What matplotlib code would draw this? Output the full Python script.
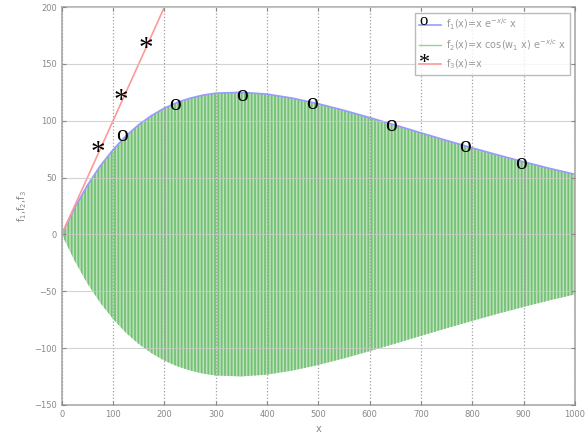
import numpy as np
import matplotlib
matplotlib.use('Agg')
import matplotlib.pyplot as plt

plt.rcParams['font.family'] = 'DejaVu Sans'
plt.rcParams['hatch.linewidth'] = 1.3

# envelope f1
x_vals = [0, 25, 50, 75, 100, 125, 150, 175, 200, 225, 250, 275, 300, 350, 400,
          450, 500, 550, 600, 650, 700, 750, 800, 850, 900, 950, 1000]
f1_vals = [0, 23.2, 43.2, 60.2, 74.5, 86.6, 96.5, 104.6, 111.1, 116.1, 119.8, 122.5,
           124.2, 125.0, 123.4, 119.8, 114.9, 109.1, 102.7, 96.1, 89.3, 82.6, 76.1,
           69.8, 63.8, 58.1, 52.8]
f2_low = [-v for v in f1_vals]
f3_x = [0, 250]
f3_y = [0, 250]

# hand placed symbols
o_x = [117, 220, 351, 487, 641, 785, 895]
o_y = [87, 114, 122, 115, 96, 77, 62]
star_x = [70, 115, 164]
star_y = [72, 117, 163]

fig = plt.figure(figsize=(5.88, 4.41), dpi=100)
ax = fig.add_axes([0.105, 0.082, 0.873, 0.902])

ax.fill_between(x_vals, f2_low, f1_vals, facecolor='#bde0bd', edgecolor='#74c174',
                hatch='|||||', linewidth=0, label='_f2')
ax.plot([], [], color='#9ad29a', lw=1, label='f$_2$(x)=x cos(w$_1$ x) e$^{-x/c}$ x')
ax.plot(x_vals, f1_vals, color='#9999ff', lw=1.2, label='f$_1$(x)=x e$^{-x/c}$ x')
ax.plot(f3_x, f3_y, color='#ff9999', lw=1.2, label='f$_3$(x)=x')

for xx, yy in zip(o_x, o_y):
    ax.text(xx, yy, 'o', family='Liberation Serif', fontsize=17, ha='center', va='center')
for xx, yy in zip(star_x, star_y):
    ax.text(xx, yy, '*', family='Liberation Serif', fontsize=21, ha='center', va='center')

ax.set_xlim(0, 1000)
ax.set_ylim(-150, 200)
ax.set_xticks(np.arange(0, 1001, 100))
ax.set_yticks(np.arange(-150, 201, 50))
ax.yaxis.grid(True, linestyle='-', color='#c8c8c8', lw=0.8, alpha=0.8)
ax.xaxis.grid(True, linestyle=':', color='#a0a0a0', lw=0.9)
ax.set_axisbelow(False)
ax.tick_params(direction='in', top=True, right=True, labelsize=6, colors='#888888', length=3)
for s in ax.spines.values():
    s.set_color('#aaaaaa')
    s.set_linewidth(1.2)
ax.set_xlabel('x', fontsize=7, color='#888888')
ax.set_ylabel('f$_1$,f$_2$,f$_3$', fontsize=7, color='#888888')

h, l = ax.get_legend_handles_labels()
order = [1, 0, 2]
leg = ax.legend([h[i] for i in order], [l[i] for i in order], loc='upper right',
                bbox_to_anchor=(1.0, 0.997),
                fontsize=7, frameon=True, fancybox=False, edgecolor='#aaaaaa',
                handlelength=2.3, handletextpad=0.5, borderpad=0.4, labelspacing=0.5)
for t in leg.get_texts():
    t.set_color('#999999')
leg.get_frame().set_linewidth(1.0)

# legend symbols on the blue and red handles
fig.canvas.draw()
inv = fig.transFigure.inverted()
lines = leg.get_lines()
for ln, sym, fs, dy in [(lines[0], 'o', 12, 4), (lines[2], '*', 16, 0)]:
    bb = ln.get_window_extent()
    px, py = inv.transform((bb.x0 + 5, (bb.y0 + bb.y1) / 2 + dy))
    fig.text(px, py, sym, family='Liberation Serif', fontsize=fs, ha='center', va='center')

fig.savefig('out.png', dpi=100)
